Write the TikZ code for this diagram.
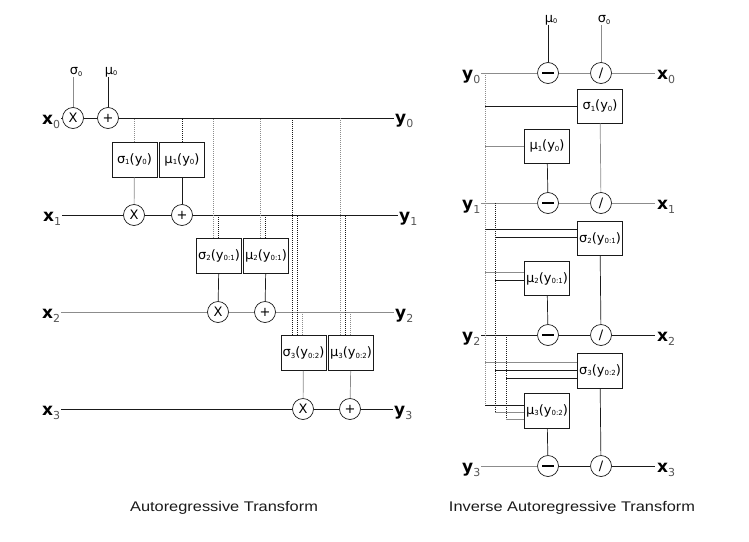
\documentclass[tikz,border=0pt]{standalone}
\usepackage{fontspec}
\setmainfont{DejaVu Sans}
\newfontfamily\titlefont{Liberation Sans}
\definecolor{lgray}{HTML}{8C8C8C}
\definecolor{dgray}{HTML}{1A1A1A}
\definecolor{subgray}{HTML}{555555}
\newcommand\bigv[2]{{\fontsize{17}{17}\selectfont\bfseries #1}\raisebox{-4pt}{\fontsize{11}{11}\selectfont\color{subgray}#2}}
\newcommand\fsub[1]{\raisebox{-1.5pt}{\fontsize{7}{7}\selectfont #1}}
\newcommand\fnl[3]{{\fontsize{13}{13}\selectfont #1\fsub{#2}(y\fsub{#3})}}
\newcommand\toplbl[2]{{\fontsize{13}{13}\selectfont #1}\raisebox{-1.5pt}{\fontsize{6.5}{6.5}\selectfont #2}}
\newcommand\minusbar{\rule[-0.6pt]{12pt}{1.2pt}}
\begin{document}
\begin{tikzpicture}[x=1pt,y=-1pt,
  op/.style={circle,draw=dgray,line width=0.7pt,minimum size=21pt,inner sep=0pt,font=\fontsize{13}{13}\selectfont},
  fn/.style={draw=dgray,line width=0.6pt,minimum width=45pt,minimum height=35pt,inner sep=0pt},
  wire/.style={draw=dgray,line width=0.7pt},
  gwire/.style={draw=lgray,line width=0.7pt},
  dots/.style={draw=dgray,line width=0.6pt,dash pattern=on 1pt off 1pt},
  gdots/.style={dots,draw=lgray},
  vlbl/.style={inner sep=0pt},
  ttl/.style={font=\titlefont\fontsize{14}{14}\selectfont,text=dgray}]
\useasboundingbox (0,0) rectangle (749,541);

% ================= Autoregressive transform =================
% row 0
\node[op] (mx0) at (73,118) {X};
\node[op] (pa0) at (108,118) {+};
\node[vlbl] (sg0) at (76,72) {\toplbl{σ}{0}};
\node[vlbl] (mu0) at (111,72) {\toplbl{μ}{0}};
\draw[gwire] (mx0.north) -- (mx0.north |- sg0.south);
\draw[wire] (pa0.north) -- (pa0.north |- mu0.south);
\node[vlbl,anchor=base west] (x0) at (42,124) {\bigv{x}{0}};
\node[vlbl,anchor=base west] (y0) at (395,123) {\bigv{y}{0}};
\draw[wire] ([xshift=1pt]x0.east |- mx0) -- (mx0);
\draw[wire] (mx0) -- (pa0);
\draw[wire] (pa0) -- ([xshift=-1pt]y0.west |- pa0);

% row 1
\node[op] (mx1) at (134,215) {X};
\node[op] (pa1) at (182,215) {+};
\node[vlbl,anchor=base west] (x1) at (43,221) {\bigv{x}{1}};
\node[vlbl,anchor=base west] (y1) at (399,221) {\bigv{y}{1}};
\node[fn] (s1) at (134.5,159.5) {\fnl{σ}{1}{0}};
\node[fn] (m1) at (182,159.5) {\fnl{μ}{1}{0}};
\draw[wire] ([xshift=1pt]x1.east |- mx1) -- (mx1);
\draw[wire] (mx1) -- (pa1);
\draw[wire] (pa1) -- ([xshift=-1pt]y1.west |- pa1);
\draw[gwire] (s1) -- (mx1);
\draw[wire] (m1) -- (pa1);
\draw[gdots] (s1.north) -- (s1.north |- pa0);
\draw[dots] (m1.north) -- (m1.north |- pa0);

% row 2
\node[op] (mx2) at (218,312) {X};
\node[op] (pa2) at (265,312) {+};
\node[vlbl,anchor=base west] (x2) at (42,318) {\bigv{x}{2}};
\node[vlbl,anchor=base west] (y2) at (395,318) {\bigv{y}{2}};
\node[fn] (s2) at (219,255.5) {\fnl{σ}{2}{0:1}};
\node[fn] (m2) at (266,255.5) {\fnl{μ}{2}{0:1}};
\draw[gwire] ([xshift=1pt]x2.east |- mx2) -- (mx2);
\draw[gwire] (mx2) -- (pa2);
\draw[gwire] (pa2) -- ([xshift=-1pt]y2.west |- pa2);
\draw[wire] (s2) -- (mx2);
\draw[wire] (m2) -- (pa2);
\draw[gdots] ([xshift=-6pt]s2.north) -- ([xshift=-6pt]s2.north |- pa0);
\draw[dots] ([xshift=-1pt]s2.north) -- ([xshift=-1pt]s2.north |- pa1);
\draw[gdots] ([xshift=-6pt]m2.north) -- ([xshift=-6pt]m2.north |- pa0);
\draw[dots] ([xshift=-1pt]m2.north) -- ([xshift=-1pt]m2.north |- pa1);

% row 3
\node[op] (mx3) at (303,409) {X};
\node[op] (pa3) at (350,409) {+};
\node[vlbl,anchor=base west] (x3) at (42,415) {\bigv{x}{3}};
\node[vlbl,anchor=base west] (y3) at (394,415) {\bigv{y}{3}};
\node[fn] (s3) at (303.5,353) {\fnl{σ}{3}{0:2}};
\node[fn] (m3) at (351,353) {\fnl{μ}{3}{0:2}};
\draw[wire] ([xshift=1pt]x3.east |- mx3) -- (mx3);
\draw[wire] (mx3) -- (pa3);
\draw[wire] (pa3) -- ([xshift=-1pt]y3.west |- pa3);
\draw[gwire] (s3) -- (mx3);
\draw[gwire] (m3) -- (pa3);
\draw[dots] ([xshift=-11.5pt]s3.north) -- ([xshift=-11.5pt]s3.north |- pa0);
\draw[dots] ([xshift=-6.5pt]s3.north) -- ([xshift=-6.5pt]s3.north |- pa1);
\draw[gdots] ([xshift=-1.5pt]s3.north) -- ([xshift=-1.5pt]s3.north |- pa2);
\draw[gdots] ([xshift=-11pt]m3.north) -- ([xshift=-11pt]m3.north |- pa0);
\draw[dots] ([xshift=-6pt]m3.north) -- ([xshift=-6pt]m3.north |- pa1);
\draw[gdots] ([xshift=-1pt]m3.north) -- ([xshift=-1pt]m3.north |- pa2);

\node[ttl] (t1) at (224,508) {\scalebox{1.17}[1]{Autoregressive Transform}};

% ================= Inverse autoregressive transform =================
% row 0
\node[op] (sb0) at (548,73) {\minusbar};
\node[op] (dv0) at (601,73) {/};
\node[vlbl] (mu0r) at (551,20) {\toplbl{μ}{0}};
\node[vlbl] (sg0r) at (604,20) {\toplbl{σ}{0}};
\draw[wire] (sb0.north) -- (sb0.north |- mu0r.south);
\draw[gwire] (dv0.north) -- (dv0.north |- sg0r.south);
\node[vlbl,anchor=base west] (iy0) at (462,79) {\bigv{y}{0}};
\node[vlbl,anchor=base west] (ix0) at (657,79) {\bigv{x}{0}};
\draw[gwire] ([xshift=1pt]iy0.east |- sb0) -- (sb0);
\draw[gwire] (sb0) -- (dv0);
\draw[gwire] (dv0) -- ([xshift=-2pt]ix0.west |- dv0);

% row 1
\node[op] (sb1) at (548,203) {\minusbar};
\node[op] (dv1) at (601,203) {/};
\node[vlbl,anchor=base west] (iy1) at (462,209) {\bigv{y}{1}};
\node[vlbl,anchor=base west] (ix1) at (657,209) {\bigv{x}{1}};
\node[fn,minimum height=34pt] (s1r) at (600,106) {\fnl{σ}{1}{0}};
\node[fn,minimum height=34pt] (m1r) at (547,146) {\fnl{μ}{1}{0}};
\draw[gwire] ([xshift=1pt]iy1.east |- sb1) -- (sb1);
\draw[gwire] (sb1) -- (dv1);
\draw[gwire] (dv1) -- ([xshift=-2pt]ix1.west |- dv1);
\draw[gwire] (s1r) -- (dv1);
\draw[wire] (m1r) -- (sb1);

% row 2
\node[op] (sb2) at (548,335) {\minusbar};
\node[op] (dv2) at (601,335) {/};
\node[vlbl,anchor=base west] (iy2) at (462,341) {\bigv{y}{2}};
\node[vlbl,anchor=base west] (ix2) at (657,341) {\bigv{x}{2}};
\node[fn,minimum height=34pt] (s2r) at (600,238.5) {\fnl{σ}{2}{0:1}};
\node[fn,minimum height=34pt] (m2r) at (547,278.5) {\fnl{μ}{2}{0:1}};
\draw[wire] ([xshift=1pt]iy2.east |- sb2) -- (sb2);
\draw[wire] (sb2) -- (dv2);
\draw[wire] (dv2) -- ([xshift=-2pt]ix2.west |- dv2);
\draw[wire] (s2r) -- (dv2);
\draw[wire] (m2r) -- (sb2);

% row 3
\node[op] (sb3) at (548,466) {\minusbar};
\node[op] (dv3) at (601,466) {/};
\node[vlbl,anchor=base west] (iy3) at (462,472) {\bigv{y}{3}};
\node[vlbl,anchor=base west] (ix3) at (657,472) {\bigv{x}{3}};
\node[fn] (s3r) at (600,370.5) {\fnl{σ}{3}{0:2}};
\node[fn] (m3r) at (547,410.5) {\fnl{μ}{3}{0:2}};
\draw[gwire] ([xshift=1pt]iy3.east |- sb3) -- (sb3);
\draw[wire] (sb3) -- (dv3);
\draw[wire] (dv3) -- ([xshift=-2pt]ix3.west |- dv3);
\draw[wire] (s3r) -- (dv3);
\draw[wire] (m3r) -- (sb3);

% taps (dotted buses)
\coordinate (d0) at (485,73);
\coordinate (d1) at (495,203);
\coordinate (d2) at (506,335);
\draw[gdots] (d0) -- (d0 |- 0,405);
\draw[dots] (d1) -- (d1 |- 0,412);
\draw[dots] (d2) -- (d2 |- 0,419);
\draw[wire]  (d0 |- s1r.west) -- (s1r.west);
\draw[gwire] (d0 |- m1r.west) -- (m1r.west);
\draw[wire]  (d0 |- 0,229) -- (s2r.west |- 0,229);
\draw[wire]  (d1 |- 0,237) -- (s2r.west |- 0,237);
\draw[gwire] (d0 |- 0,272) -- (m2r.west |- 0,272);
\draw[wire]  (d1 |- 0,280) -- (m2r.west |- 0,280);
\draw[gwire] (d0 |- 0,362) -- (s3r.west |- 0,362);
\draw[wire]  (d1 |- 0,370) -- (s3r.west |- 0,370);
\draw[wire]  (d2 |- 0,378) -- (s3r.west |- 0,378);
\draw[wire]  (d0 |- 0,405) -- (m3r.west |- 0,405);
\draw[gwire] (d1 |- 0,412) -- (m3r.west |- 0,412);
\draw[gwire] (d2 |- 0,419) -- (m3r.west |- 0,419);

\node[ttl] (t2) at (572,508) {\scalebox{1.17}[1]{Inverse Autoregressive Transform}};
\end{tikzpicture}
\end{document}
